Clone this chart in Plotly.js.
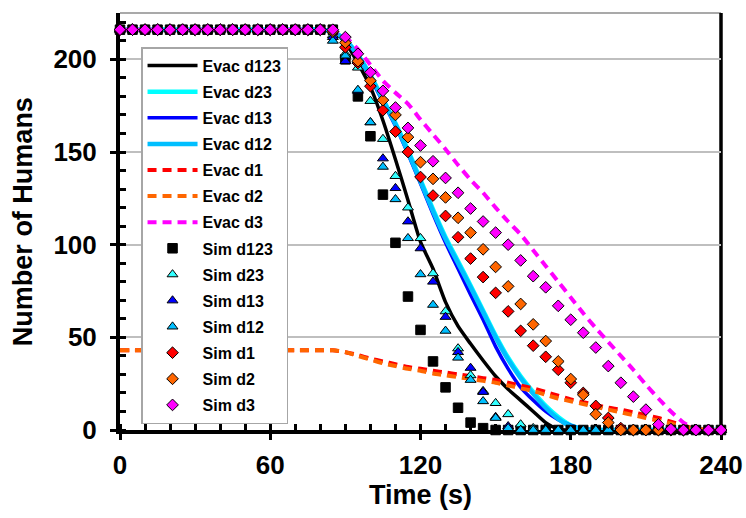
<!DOCTYPE html>
<html>
<head>
<meta charset="utf-8">
<script src="https://cdn.plot.ly/plotly-3.0.1.min.js"></script>
<style>html,body{margin:0;padding:0;background:#fff;}#chart{width:746px;height:518px;}</style>
</head>
<body>
<div id="chart"></div>
<script>
// Time (s)
var time = [0,5,10,15,20,25,30,35,40,45,50,55,60,65,70,75,80,85,90,95,100,105,110,115,120,125,130,135,140,145,150,155,160,165,170,175,180,185,190,195,200,205,210,215,220,225,230,235,240];

// Evacuation model curves
var evacD123 = [216,216,216,216,216,216,216,216,216,216,216,216,216,216,216,216,216,215,209,198,185,167,146,124,101.5,87,69,56,46.5,37.5,29,22,16,10,4,0.5,0,0,0,0,0,0,0,0,0,0,0,0,0];
var evacD23  = [216,216,216,216,216,216,216,216,216,216,216,216,216,216,216,216,216,215,210.5,202.5,191.5,178.5,165.5,151,135,119,104,91,78,64.5,51,39,29,20.5,13,7,2.5,0.5,0,0,0,0,0,0,0,0,0,0,0];
var evacD13  = [216,216,216,216,216,216,216,216,216,216,216,216,216,216,216,216,216,215,210,201.5,190,177,164,149,133,116.5,101,87,73,59.5,45,33,23,16,10,5.5,2.5,0.5,0,0,0,0,0,0,0,0,0,0,0];
var evacD12  = [216,216,216,216,216,216,216,216,216,216,216,216,216,216,216,216,216,215,210.5,202,191,178,165,150,134,118,103,90,77,63.5,50,38,28,19.5,12,6,2,0.5,0,0,0,0,0,0,0,0,0,0,0];
var evacD1   = [43,43,43,43,43,43,43,43,43,43,43,43,43,43,43,43,43,43,42,40.5,38.5,37,35.5,34,33,32,31,30,29,28,27,25.5,24,22.5,20.5,18.5,16.5,15,13.5,12,11,9.5,8,6.5,4.5,2.5,0.5,0,0];
var evacD2   = [43,43,43,43,43,43,43,43,43,43,43,43,43,43,43,43,43,43,42,40,38,36,34.5,33,32,30.5,29.5,28.5,27.5,26.5,25.5,24,22.5,21,19,17,15.5,14,12.5,11,9.5,8,6.5,5,3.5,1.5,0.5,0,0];
var evacD3   = [216,216,216,216,216,216,216,216,216,216,216,216,216,216,216,216,216,215,212,205.5,197,188.5,182,176,167.5,159.5,151.5,143,135,128,120,112.5,105.5,97,88.5,80,71.5,63,55,47.5,40,32.5,24.5,17,10,4,0.5,0,0];

// Simulation results
var simD123 = [216,216,216,216,216,216,216,216,216,216,216,216,216,216,216,216,216,216,200,180,158.5,127,101,72,54,37,23,12,4,1,0,0,0,0,0,0,0,0,0,0,0,0,0,0,0,0,0,0,0];
var simD23  = [216,216,216,216,216,216,216,216,216,216,216,216,216,216,216,216,216,213,203,195.5,177.5,157,137,120,103.5,84.5,64,44,29.5,21,14.5,8.5,3,1,0,0,0,0,0,0,0,0,0,0,0,0,0,0,0];
var simD13  = [216,216,216,216,216,216,216,216,216,216,216,216,216,216,216,216,216,212,199,183,166,146.5,130.5,112.5,98,80,61,42,33.5,20.5,7,2,0,0,0,0,0,0,0,0,0,0,0,0,0,0,0,0,0];
var simD12  = [216,216,216,216,216,216,216,216,216,216,216,216,216,216,216,216,216,210,202,183.5,166,142,124.5,103.5,84,67.5,53.5,39,27,15.5,6.5,1,0,0,0,0,0,0,0,0,0,0,0,0,0,0,0,0,0];
var simD1   = [216,216,216,216,216,216,216,216,216,216,216,216,216,216,216,216,216,215,206.5,198,185.5,172.5,161,150,136.5,126.5,115.5,104,92.5,82.5,74,64,53.5,45.5,39.5,32.5,25.5,20,13,6.5,1,0,0,0,0,0,0,0,0];
var simD2   = [216,216,216,216,216,216,216,216,216,216,216,216,216,216,216,216,216,215,209,199,188.5,178,170,158,144.5,135.5,125.5,114.5,106.5,97.5,88,77.5,68,57,48,37,27.5,19,8.5,4,0,0,0,0,0,0,0,0,0];
var simD3   = [216,216,216,216,216,216,216,216,216,216,216,216,216,216,216,216,216,216,212,203,193,183,174,163,153.5,145,136,128,119.5,112.5,106.5,100,91.5,83,77,67,59.5,52.5,44.5,34.5,25.5,18,11,3,0.5,0,0,0,0];

var xTicks = [0,60,120,180,240];
var yTicks = [0,50,100,150,200];

var traces = [];
function lineTrace(name, y, color, width, dash) {
  return {x: time, y: y, name: name, legendgroup: name, type: 'scatter', mode: 'lines',
    line: {color: color, width: width, dash: dash || 'solid', shape: 'spline', smoothing: 0.6},
    cliponaxis: false, hoverinfo: 'skip'};
}
function simTrace(name, y, color, symbol, size) {
  return {x: time, y: y, name: name, legendgroup: name, type: 'scatter', mode: 'markers',
    marker: {color: color, symbol: symbol, size: size, line: {color: '#000000', width: 1}},
    cliponaxis: false, hoverinfo: 'skip'};
}
var dash = '9px,6px';
traces.push(lineTrace('Evac d123', evacD123, '#000000', 3.5));
traces.push(lineTrace('Evac d23', evacD23, '#00FFFF', 4.5));
traces.push(lineTrace('Evac d13', evacD13, '#0000FF', 3.5));
traces.push(lineTrace('Evac d12', evacD12, '#00BFFF', 4.5));
traces.push(lineTrace('Evac d1', evacD1, '#FF0000', 4, dash));
traces.push(lineTrace('Evac d2', evacD2, '#FF6600', 4, dash));
traces.push(lineTrace('Evac d3', evacD3, '#FF00FF', 4, dash));
traces.push(simTrace('Sim d123', simD123, '#000000', 'square', 9.5));
traces.push(simTrace('Sim d23', simD23, '#33FFFF', 'triangle-up', 9.5));
traces.push(simTrace('Sim d13', simD13, '#0000FF', 'triangle-up', 9.5));
traces.push(simTrace('Sim d12', simD12, '#00BFFF', 'triangle-up', 9.5));
traces.push(simTrace('Sim d1', simD1, '#FF0000', 'diamond', 9));
traces.push(simTrace('Sim d2', simD2, '#FF6600', 'diamond', 9));
traces.push(simTrace('Sim d3', simD3, '#FF00FF', 'diamond', 9));

var fontFam = '"Liberation Sans", Arial, sans-serif';
var layout = {
  width: 746, height: 518,
  margin: {l: 120, r: 25, t: 13, b: 88, pad: 0},
  paper_bgcolor: '#ffffff', plot_bgcolor: '#ffffff',
  font: {family: fontFam, color: '#000000'},
  showlegend: true,
  legend: {
    x: 0.035, y: 0.918, xanchor: 'left', yanchor: 'top',
    bgcolor: '#ffffff', bordercolor: '#a6a6a6', borderwidth: 1.5,
    font: {family: fontFam, size: 16, weight: 'bold', color: '#000000'},
    traceorder: 'grouped', tracegroupgap: 2.3, itemwidth: 50
  },
  xaxis: {
    range: [0, 240], tickmode: 'array', tickvals: xTicks, ticktext: xTicks.map(String),
    showgrid: false, zeroline: false,
    showline: true, linecolor: '#000000', linewidth: 4,
    ticks: 'outside', ticklen: 6, tickwidth: 3, tickcolor: '#000000',
    ticklabelstandoff: 3,
    minor: {dtick: 10, ticks: 'inside', ticklen: 6, tickwidth: 3, tickcolor: '#000000', showgrid: false},
    tickfont: {family: fontFam, size: 26, weight: 'bold', color: '#000000'},
    title: {text: 'Time (s)', font: {family: fontFam, size: 27, weight: 'bold', color: '#000000'}, standoff: 4},
    layer: 'below traces', automargin: false, fixedrange: true
  },
  yaxis: {
    range: [0, 225], tickmode: 'array', tickvals: yTicks, ticktext: yTicks.map(String),
    showgrid: true, gridcolor: '#bfbfbf', gridwidth: 2, zeroline: false,
    showline: true, linecolor: '#000000', linewidth: 4,
    ticks: 'outside', ticklen: 6, tickwidth: 3, tickcolor: '#000000',
    ticklabelstandoff: 8,
    minor: {dtick: 10, ticks: 'inside', ticklen: 6, tickwidth: 3, tickcolor: '#000000', showgrid: false},
    tickfont: {family: fontFam, size: 26, weight: 'bold', color: '#000000'},
    layer: 'below traces', automargin: false, fixedrange: true
  },
  annotations: [
    {text: 'Number of Humans', xref: 'paper', yref: 'paper', x: -0.162, y: 0.5,
     xanchor: 'center', yanchor: 'middle', textangle: -90, showarrow: false,
     font: {family: fontFam, size: 27, weight: 'bold', color: '#000000'}}
  ],
  shapes: [
    {type: 'line', xref: 'paper', yref: 'paper', x0: 0, x1: 1, y0: 1, y1: 1, line: {color: '#8c8c8c', width: 1.5}, layer: 'below'},
    {type: 'line', xref: 'paper', yref: 'paper', x0: 1, x1: 1, y0: 0, y1: 1, line: {color: '#000000', width: 3.5}, layer: 'below'}
  ]
};
Plotly.newPlot('chart', traces, layout, {displayModeBar: false, staticPlot: true});
</script>
</body>
</html>
